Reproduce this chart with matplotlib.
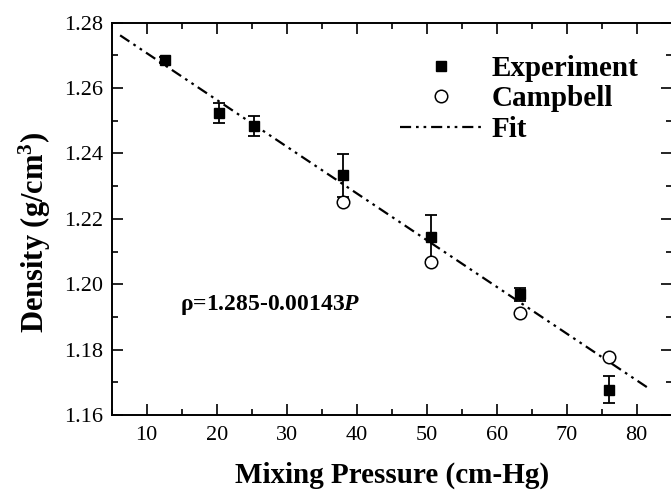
import numpy as np
import matplotlib.pyplot as plt
from matplotlib.lines import Line2D
from matplotlib.ticker import MultipleLocator

plt.rcParams['font.family'] = ['Liberation Serif', 'DejaVu Serif']
plt.rcParams['mathtext.fontset'] = 'custom'
plt.rcParams['mathtext.rm'] = 'Liberation Serif:bold'
plt.rcParams['mathtext.bf'] = 'Liberation Serif:bold'
plt.rcParams['mathtext.it'] = 'Liberation Serif:italic:bold'

# mixing pressure (cm-Hg)
exp_p = [12.67, 20.27, 25.33, 38.0, 50.67, 63.33, 76.0]
exp_rho = [1.2686, 1.2524, 1.2484, 1.2333, 1.2143, 1.1970, 1.1678]
exp_err = [0.001, 0.003, 0.003, 0.0065, 0.007, 0.002, 0.004]

campbell_p = [38.0, 50.67, 63.33, 76.0]
campbell_rho = [1.2252, 1.2068, 1.1911, 1.1778]

fit_a = 1.285
fit_b = -0.00143
fit_range = [6.2, 82.0]

dashdotdot = (0, (5, 2.2, 1.2, 2.2, 1.2, 2.2))

fig = plt.figure(figsize=(6.71, 5.0), dpi=100)
ax = fig.add_axes([0.1665, 0.170, 0.8346, 0.7846])

p_fit = np.array(fit_range)
ax.plot(p_fit, fit_a + fit_b * p_fit, color='black', lw=1.6, linestyle=dashdotdot)

ax.errorbar(exp_p, exp_rho, yerr=exp_err, fmt='none', ecolor='black',
            elinewidth=1.3, capsize=4.5, capthick=1.3)
ax.plot(campbell_p, campbell_rho, 'o', ms=9, mfc='white', mec='black', mew=1.1)
ax.plot(exp_p, exp_rho, 's', ms=7.5, color='black')

ax.set_xlim(5, 85)
ax.set_ylim(1.16, 1.28)
ax.xaxis.set_minor_locator(MultipleLocator(5))
ax.yaxis.set_major_locator(MultipleLocator(0.02))
ax.yaxis.set_minor_locator(MultipleLocator(0.01))
ax.set_xticks(np.arange(10, 81, 10))
ax.yaxis.set_major_formatter(plt.FormatStrFormatter('%.2f'))
ax.tick_params(which='both', direction='in', top=True, right=True, width=1.2)
ax.tick_params(which='major', length=8, labelsize=16)
ax.tick_params(which='minor', length=4.5)
ax.tick_params(axis='x', pad=8)
ax.tick_params(axis='y', pad=6)
for s in ax.spines.values():
    s.set_linewidth(1.4)

ax.set_xlabel('Mixing Pressure (cm-Hg)', fontsize=21, fontweight='bold', labelpad=12)
ax.set_ylabel(r'Density (g/cm$^{\mathbf{3}}$)', fontsize=22, fontweight='bold')
ax.yaxis.set_label_coords(-0.105, 0.466)

ax.text(14.7, 1.1936, r'ρ=1.285-0.00143$\mathit{P}$', fontsize=17,
        fontweight='bold', ha='left', va='center')

handles = [
    Line2D([], [], ls='none', marker='s', ms=7.5, color='black'),
    Line2D([], [], ls='none', marker='o', ms=9, mfc='white', mec='black', mew=1.1),
    Line2D([], [], color='black', lw=1.6, linestyle=dashdotdot),
]
ax.legend(handles, ['Experiment', 'Campbell', 'Fit'], loc='upper left',
          bbox_to_anchor=(0.515, 0.918), frameon=False, borderpad=0,
          borderaxespad=0, handlelength=2.8, handletextpad=0.35,
          labelspacing=0.12,
          prop={'family': 'Liberation Serif', 'weight': 'bold', 'size': 21})

fig.savefig('out.png', dpi=100)
